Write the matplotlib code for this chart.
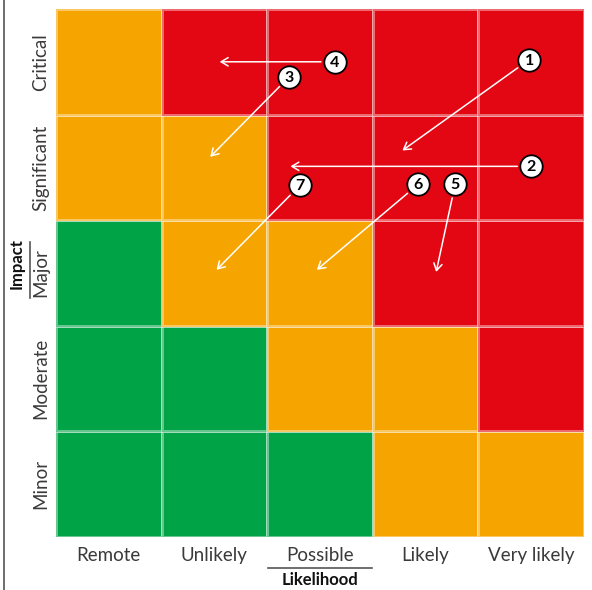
import matplotlib.pyplot as plt
from matplotlib.colors import ListedColormap

likelihood = ["Remote", "Unlikely", "Possible", "Likely", "Very likely"]
impact = ["Minor", "Moderate", "Major", "Significant", "Critical"]  # bottom to top

# risk level per cell, rows bottom (Minor) to top (Critical); 0 green, 1 amber, 2 red
levels = [
    [0, 0, 0, 1, 1],
    [0, 0, 1, 1, 2],
    [0, 1, 1, 2, 2],
    [1, 1, 2, 2, 2],
    [1, 2, 2, 2, 2],
]

# risk markers: number, start (x, y), arrow end (x, y) in grid units
risk_ids = ["1", "2", "3", "4", "5", "6", "7"]
start_x = [4.48, 4.50, 2.21, 2.64, 3.78, 3.43, 2.31]
start_y = [4.52, 3.51, 4.36, 4.50, 3.34, 3.34, 3.33]
end_x = [3.28, 2.22, 1.46, 1.55, 3.60, 2.47, 1.52]
end_y = [3.66, 3.51, 3.60, 4.50, 2.51, 2.53, 2.53]

plt.rcParams['font.family'] = ['Lato', 'DejaVu Sans']

fig = plt.figure(figsize=(5.92, 5.90), dpi=100)
ax = fig.add_axes([56 / 592, 53 / 590, 528 / 592, 528 / 590])

cmap = ListedColormap(["#00A346", "#F6A500", "#E30713"])
ax.pcolormesh(range(6), range(6), levels, cmap=cmap, vmin=0, vmax=2,
              edgecolor=(1, 1, 1, 0.4), linewidth=1)

for i in range(len(risk_ids)):
    ax.annotate("", xy=(end_x[i], end_y[i]), xytext=(start_x[i], start_y[i]),
                arrowprops=dict(arrowstyle="->,head_length=0.5,head_width=0.3",
                                color="white", lw=1.1, shrinkA=10, shrinkB=0))
ax.scatter(start_x, start_y, s=260, facecolor="white", edgecolor="black",
           linewidth=1.3, zorder=3)
for i in range(len(risk_ids)):
    ax.text(start_x[i], start_y[i] - 0.01, risk_ids[i], ha="center", va="center",
            fontsize=11.5, fontweight="bold", color="black", zorder=4)

ax.set_xlim(0, 5)
ax.set_ylim(0, 5)
ax.set_xticks([i + 0.5 for i in range(5)])
ax.set_xticklabels(likelihood, fontsize=13.5, color="#3a3a3a")
ax.set_yticks([i + 0.5 for i in range(5)])
ax.set_yticklabels(impact, fontsize=13.5, color="#3a3a3a", rotation=90, va="center")
ax.tick_params(axis="x", length=0, pad=7)
ax.tick_params(axis="y", length=0, pad=5)
for s in ax.spines.values():
    s.set_visible(False)

# axis titles with rules
fig.text(320 / 592, 1 - 580 / 590, "Likelihood", ha="center", va="center",
         fontsize=12, fontweight="bold", color="#111111")
fig.add_artist(plt.Line2D([268 / 592, 372 / 592], [1 - 568 / 590] * 2,
                          color="#555555", lw=1.2))
fig.text(17 / 592, 1 - 264 / 590, "Impact", ha="center", va="center", rotation=90,
         fontsize=12, fontweight="bold", color="#111111")
fig.add_artist(plt.Line2D([30 / 592] * 2, [1 - 242 / 590, 1 - 298 / 590],
                          color="#555555", lw=1.2))
fig.add_artist(plt.Line2D([4 / 592] * 2, [0, 1], color="#555555", lw=1.2))

fig.savefig("out.png", dpi=100)
